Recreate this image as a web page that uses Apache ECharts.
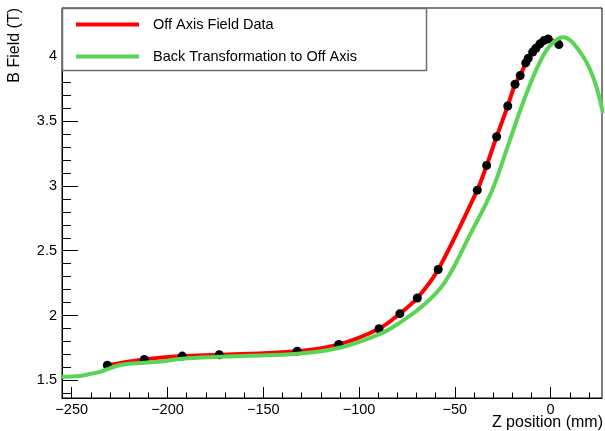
<!DOCTYPE html>
<html>
<head>
<meta charset="utf-8">
<script src="https://cdn.jsdelivr.net/npm/echarts@6/dist/echarts.min.js"></script>
<style>html,body{margin:0;padding:0;background:#fff}#c{width:605px;height:431px}</style>
</head>
<body>
<div id="c"></div>
<script>
// Off-axis field data points (Z mm, B T)
const dataZ = [-231.4,-212.1,-192.3,-173.0,-132.3,-110.6,-89.6,-78.7,-69.6,-58.7,-38.3,-33.4,-28.2,-22.4,-18.6,-15.9,-13.0,-11.7,-9.4,-7.7,-5.6,-3.5,-1.3,4.3];
const dataB = [1.618,1.662,1.688,1.698,1.726,1.778,1.899,2.015,2.136,2.355,2.967,3.158,3.379,3.616,3.783,3.850,3.948,3.984,4.031,4.061,4.095,4.120,4.133,4.089];
// Back transformation curve
const backZ = [-255.1,-245.7,-240.5,-235.3,-231.7,-227.4,-223.1,-212.1,-202.2,-192.3,-173.0,-156.9,-132.3,-110.6,-89.6,-78.7,-66.0,-55.1,-41.9,-30.6,-22.0,-13.7,-6.1,-0.4,6.4,15.3,22.2,27.3];
const backB = [1.529,1.535,1.550,1.566,1.585,1.608,1.624,1.637,1.649,1.668,1.682,1.690,1.706,1.750,1.855,1.946,2.085,2.260,2.630,2.965,3.322,3.670,3.940,4.079,4.146,4.033,3.837,3.56];
// Axis ticks
const xMajor = [-250,-200,-150,-100,-50,0];
const xMinor = [-250,-240,-230,-220,-210,-200,-190,-180,-170,-160,-150,-140,-130,-120,-110,-100,-90,-80,-70,-60,-50,-40,-30,-20,-10,0,10,20];
const yMajor = [1.5,2,2.5,3,3.5,4];
const yMinor = [1.4,1.5,1.6,1.7,1.8,1.9,2.0,2.1,2.2,2.3,2.4,2.5,2.6,2.7,2.8,2.9,3.0,3.1,3.2,3.3,3.4,3.5,3.6,3.7,3.8,3.9,4.0,4.1,4.2,4.3];
const seriesNames = ['Off Axis Field Data','Back Transformation to Off Axis'];
const xTitle = 'Z position (mm)';
const yTitle = 'B Field (T)';

const X_MIN = -255.06, X_MAX = 26.8, Y_MIN = 1.365, Y_MAX = 4.371;
const FONT = "'Liberation Sans', Arial, Helvetica, sans-serif";
const pts = dataZ.map((z,i)=>[z,dataB[i]]);
const back = backZ.map((z,i)=>[z,backB[i]]);
const fmt = v => String(v).replace('-', '\u2212');

const chart = echarts.init(document.getElementById('c'), null, {renderer:'canvas'});
chart.setOption({
  animation:false,
  backgroundColor:'#fff',
  grid:{left:62,right:3,top:8,bottom:33,show:true,borderColor:'#000',borderWidth:1,backgroundColor:'transparent'},
  xAxis:[
    {type:'value',min:X_MIN,max:X_MAX,position:'bottom',
     axisLine:{show:true,onZero:false,lineStyle:{color:'#000',width:1}},
     axisTick:{show:true,inside:true,length:11,customValues:xMajor,lineStyle:{color:'#000',width:1}},
     axisLabel:{show:true,customValues:xMajor,formatter:fmt,margin:4,color:'#000',fontSize:14.5,fontFamily:FONT},
     splitLine:{show:false}},
    {type:'value',min:X_MIN,max:X_MAX,position:'bottom',
     axisLine:{show:false,onZero:false},
     axisTick:{show:true,inside:true,length:5.5,customValues:xMinor,lineStyle:{color:'#000',width:1}},
     axisLabel:{show:false},splitLine:{show:false}}
  ],
  yAxis:[
    {type:'value',min:Y_MIN,max:Y_MAX,position:'left',
     axisLine:{show:true,onZero:false,lineStyle:{color:'#000',width:1}},
     axisTick:{show:true,inside:true,length:16,customValues:yMajor,lineStyle:{color:'#000',width:1}},
     axisLabel:{show:true,customValues:yMajor,formatter:fmt,margin:5,color:'#000',fontSize:14.5,fontFamily:FONT,padding:[2,0,0,0]},
     splitLine:{show:false}},
    {type:'value',min:Y_MIN,max:Y_MAX,position:'left',
     axisLine:{show:false,onZero:false},
     axisTick:{show:true,inside:true,length:9,customValues:yMinor,lineStyle:{color:'#000',width:1}},
     axisLabel:{show:false},splitLine:{show:false}}
  ],
  legend:{
    show:true,orient:'vertical',left:76,top:16,padding:0,itemGap:15,
    itemWidth:63,itemHeight:4,icon:'rect',z:10,
    data:seriesNames,
    textStyle:{color:'#000',fontSize:14.5,fontFamily:FONT,padding:[0,0,0,9],lineHeight:17}
  },
  graphic:[
    {type:'rect',z:5,shape:{x:62.5,y:8.5,width:364,height:62},style:{fill:'#fff',stroke:'#6f6f6f',lineWidth:1.5}},
    {type:'text',x:15,y:8,rotation:Math.PI/2,style:{text:yTitle,align:'right',verticalAlign:'middle',fill:'#000',font:'16px '+FONT}},
    {type:'text',x:603,y:423,style:{text:xTitle,align:'right',verticalAlign:'middle',fill:'#000',font:'16px '+FONT}}
  ],
  series:[
    {name:seriesNames[0],type:'line',data:pts,smooth:0.3,showSymbol:false,color:'#ff0000',
     lineStyle:{color:'#ff0000',width:4},z:2},
    {name:'points',type:'scatter',data:pts,symbol:'circle',symbolSize:9,itemStyle:{color:'#000',opacity:1},z:3},
    {name:seriesNames[1],type:'line',data:back,smooth:0.4,showSymbol:false,color:'#59d454',
     lineStyle:{color:'#59d454',width:4},z:4}
  ]
});
</script>
</body>
</html>
